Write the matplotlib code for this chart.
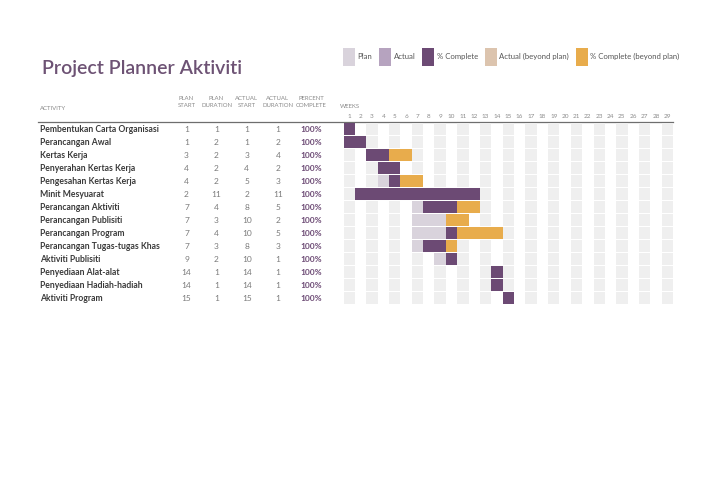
import matplotlib.pyplot as plt
from matplotlib.patches import Patch

plt.rcParams["font.family"] = ["Lato", "DejaVu Sans"]

activities = [
    "Pembentukan Carta Organisasi",
    "Perancangan Awal",
    "Kertas Kerja",
    "Penyerahan Kertas Kerja",
    "Pengesahan Kertas Kerja",
    "Minit Mesyuarat",
    "Perancangan Aktiviti",
    "Perancangan Publisiti",
    "Perancangan Program",
    "Perancangan Tugas-tugas Khas",
    "Aktiviti Publisiti",
    "Penyediaan Alat-alat",
    "Penyediaan Hadiah-hadiah",
    "Aktiviti Program",
]
plan_start = [1, 1, 3, 4, 4, 2, 7, 7, 7, 7, 9, 14, 14, 15]
plan_duration = [1, 2, 2, 2, 2, 11, 4, 3, 4, 3, 2, 1, 1, 1]
actual_start = [1, 1, 3, 4, 5, 2, 8, 10, 10, 8, 10, 14, 14, 15]
actual_duration = [1, 2, 4, 2, 3, 11, 5, 2, 5, 3, 1, 1, 1, 1]
percent_complete = [100] * 14
weeks = list(range(1, 30))

headers = ["PLAN\nSTART", "PLAN\nDURATION", "ACTUAL\nSTART", "ACTUAL\nDURATION", "PERCENT\nCOMPLETE"]
legend_labels = ["Plan", "Actual", "% Complete", "Actual (beyond plan)", "% Complete (beyond plan)"]

C_PLAN = "#d9d3dc"
C_ACTUAL = "#b6a3bf"
C_DONE = "#6c4a74"
C_ACT_OUT = "#dcc4ae"
C_DONE_OUT = "#e8ac4c"
C_CELL = "#efefef"
GREY = "#8a8a8a"


def split(a0, a1, p0, p1):
    """split [a0, a1) into the part inside [p0, p1) and the parts outside"""
    inside, outside = [], []
    if a1 <= a0:
        return inside, outside
    if max(a0, p0) < min(a1, p1):
        inside.append((max(a0, p0), min(a1, p1)))
    if a0 < p0:
        outside.append((a0, min(a1, p0)))
    if a1 > p1:
        outside.append((max(a0, p1), a1))
    return inside, outside


W, H = 707, 500
fig = plt.figure(figsize=(W / 100, H / 100), dpi=100)

# overlay in pixel units for the table part
ax_t = fig.add_axes([0, 0, 1, 1])
ax_t.set_xlim(0, W)
ax_t.set_ylim(H, 0)
ax_t.axis("off")

# gantt axes
row_h = 13
top = 122.5
left = 343.6
cell_w = 11.36
ax = fig.add_axes([left / W, 1 - (top + row_h * len(activities)) / H,
                   cell_w * len(weeks) / W, row_h * len(activities) / H])
ax.patch.set_alpha(0)
ax.set_xlim(weeks[0], weeks[-1] + 1)
ax.set_ylim(len(activities) + 0.5, 0.5)
for s in ax.spines.values():
    s.set_visible(False)
ax.set_yticks([])
ax.xaxis.tick_top()
ax.set_xticks([w + 0.5 for w in weeks])
ax.set_xticklabels([str(w) for w in weeks], fontsize=4.6, color=GREY)
ax.tick_params(axis="x", length=0, pad=2.5)

rows = list(range(1, len(activities) + 1))
bh = 0.86
for w in weeks:
    if w % 2 == 1:
        ax.barh(rows, 1, left=w, height=bh, color=C_CELL, lw=0)

for r, ps, pd_, as_, ad, pc in zip(rows, plan_start, plan_duration,
                                    actual_start, actual_duration, percent_complete):
    p0, p1 = ps, ps + pd_
    ax.barh(r, p1 - p0, left=p0, height=bh, color=C_PLAN, lw=0)
    ins, outs = split(as_, as_ + ad, p0, p1)
    for a, b in ins:
        ax.barh(r, b - a, left=a, height=bh, color=C_ACTUAL, lw=0)
    for a, b in outs:
        ax.barh(r, b - a, left=a, height=bh, color=C_ACT_OUT, lw=0)
    ins, outs = split(as_, as_ + ad * pc / 100, p0, p1)
    for a, b in ins:
        ax.barh(r, b - a, left=a, height=bh, color=C_DONE, lw=0)
    for a, b in outs:
        ax.barh(r, b - a, left=a, height=bh, color=C_DONE_OUT, lw=0)

# title
ax_t.text(42, 74, "Project Planner Aktiviti", fontsize=14, color="#6d5274",
          fontweight="semibold", va="baseline", ha="left")

# header
ax_t.text(40, 108, "ACTIVITY", fontsize=4.3, color=GREY, va="center", ha="left")
col_x = [186.5, 216.5, 246.7, 277.8, 311.5]
for x, h in zip(col_x, headers):
    ax_t.text(x, 102, h, fontsize=4.3, color=GREY, va="center", ha="center",
              linespacing=1.6)
ax_t.text(340, 106.5, "WEEKS", fontsize=4.3, color=GREY, va="center", ha="left")
ax_t.plot([38, left + cell_w * len(weeks)], [122, 122], color="#6e6e6e", lw=0.9)

for i, name in enumerate(activities):
    y = top + row_h * (i + 0.5) + 2.8
    ax_t.text(40, y, name, fontsize=6.2, fontweight="bold", color="#3a3a3a",
              va="baseline", ha="left")
    vals = [plan_start[i], plan_duration[i], actual_start[i], actual_duration[i]]
    for x, v in zip(col_x[:4], vals):
        ax_t.text(x, y, str(v), fontsize=6, color="#7a7a7a", va="baseline", ha="center")
    ax_t.text(col_x[4], y, f"{percent_complete[i]}%", fontsize=6, fontweight="bold",
              color=C_DONE, va="baseline", ha="center")

handles = [Patch(color=c, lw=0) for c in [C_PLAN, C_ACTUAL, C_DONE, C_ACT_OUT, C_DONE_OUT]]
fig.legend(handles, legend_labels, loc="upper left",
           bbox_to_anchor=(343 / W, 1 - 48 / H), ncol=5, frameon=False,
           fontsize=5.6, labelcolor="#555555", handlelength=1.55, handleheight=3.18,
           handletextpad=0.3, columnspacing=0.9, borderpad=0, borderaxespad=0)

fig.savefig("out.png", dpi=100, facecolor="white")
